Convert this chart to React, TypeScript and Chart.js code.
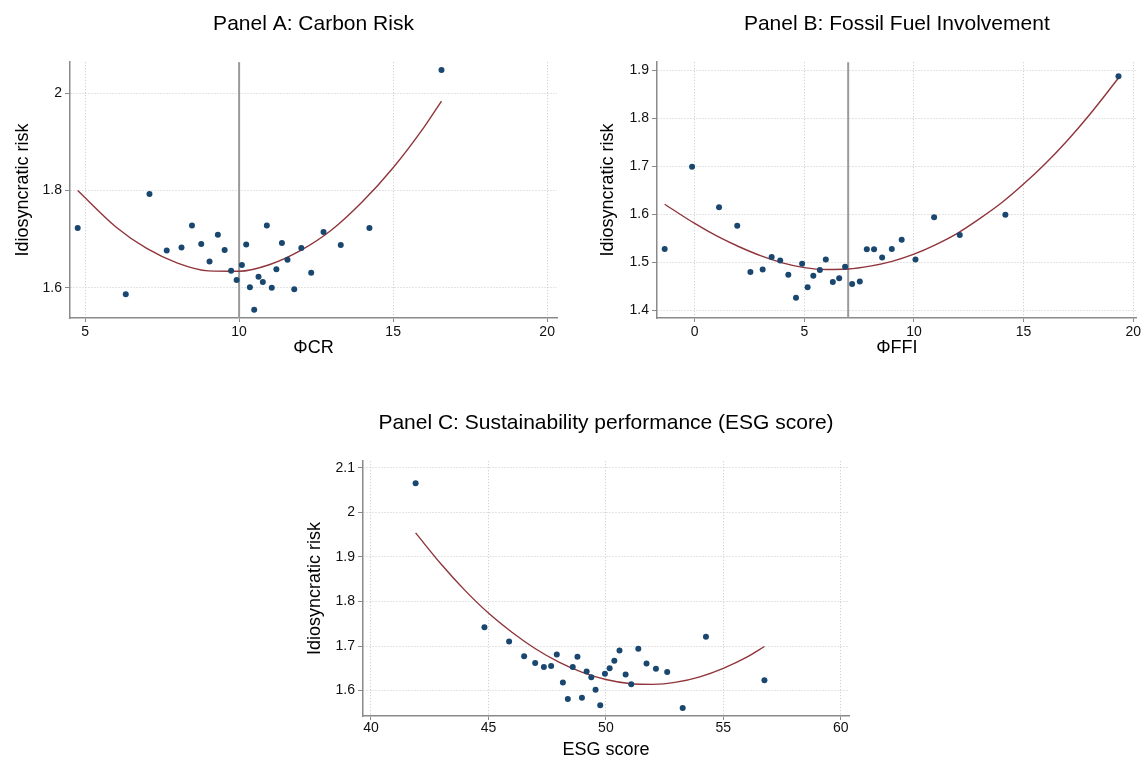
import React, { useEffect, useRef } from 'react';
import { Chart, registerables } from 'chart.js';

Chart.register(...registerables);

const FONT = "'Liberation Sans', Arial, Helvetica, sans-serif";
const DOT = '#1a476f';
const FIT = '#90353b';

// ---------- Panel A: Carbon Risk ----------
const crX = [4.76, 6.32, 7.09, 7.65, 8.13, 8.47, 8.77, 9.04, 9.31, 9.53, 9.74, 9.92, 10.09, 10.23, 10.35, 10.49, 10.63, 10.77, 10.9, 11.06, 11.21, 11.39, 11.57, 11.79, 12.02, 12.34, 12.74, 13.3, 14.23, 16.57];
const crY = [1.723, 1.587, 1.793, 1.677, 1.683, 1.728, 1.69, 1.654, 1.709, 1.678, 1.635, 1.616, 1.647, 1.689, 1.601, 1.555, 1.623, 1.612, 1.728, 1.6, 1.638, 1.692, 1.658, 1.597, 1.682, 1.631, 1.715, 1.688, 1.723, 2.048];
const crFitX = [4.76, 6, 7, 8, 9, 10, 11, 12, 13, 14, 15, 16, 16.57];
const crFitY = [1.8, 1.725, 1.681, 1.651, 1.635, 1.634, 1.648, 1.677, 1.719, 1.777, 1.847, 1.93, 1.984];
const crTicksX = [5, 10, 15, 20];
const crTicksY = [1.6, 1.8, 2];
const crRefLine = 10;

// ---------- Panel B: Fossil Fuel Involvement ----------
const ffiX = [-1.37, -0.12, 1.11, 1.94, 2.54, 3.1, 3.51, 3.9, 4.27, 4.62, 4.9, 5.15, 5.41, 5.71, 5.98, 6.3, 6.59, 6.86, 7.18, 7.53, 7.85, 8.18, 8.55, 8.99, 9.44, 10.07, 10.92, 12.09, 14.17, 19.33];
const ffiY = [1.528, 1.699, 1.615, 1.576, 1.48, 1.485, 1.511, 1.504, 1.474, 1.426, 1.497, 1.448, 1.472, 1.484, 1.506, 1.459, 1.467, 1.491, 1.455, 1.46, 1.527, 1.527, 1.51, 1.528, 1.547, 1.506, 1.594, 1.557, 1.599, 1.8875];
const ffiFitX = [-1.37, 0, 1, 2, 3, 4, 5, 6, 7, 8, 9, 10, 11, 12, 13, 14, 15, 16, 17, 18, 19.33];
const ffiFitY = [1.621, 1.581, 1.555, 1.533, 1.514, 1.499, 1.489, 1.485, 1.486, 1.492, 1.502, 1.517, 1.537, 1.561, 1.591, 1.624, 1.663, 1.706, 1.754, 1.807, 1.884];
const ffiTicksX = [0, 5, 10, 15, 20];
const ffiTicksY = [1.4, 1.5, 1.6, 1.7, 1.8, 1.9];
const ffiRefLine = 7;

// ---------- Panel C: ESG score ----------
const esgX = [41.9, 44.83, 45.88, 46.52, 46.99, 47.36, 47.67, 47.91, 48.17, 48.38, 48.59, 48.79, 48.98, 49.18, 49.38, 49.56, 49.76, 49.96, 50.16, 50.36, 50.58, 50.84, 51.08, 51.38, 51.73, 52.13, 52.61, 53.27, 54.26, 56.75];
const esgY = [2.0655, 1.742, 1.71, 1.677, 1.662, 1.653, 1.655, 1.681, 1.618, 1.581, 1.653, 1.676, 1.584, 1.643, 1.63, 1.602, 1.567, 1.638, 1.65, 1.667, 1.69, 1.636, 1.614, 1.694, 1.661, 1.649, 1.642, 1.561, 1.721, 1.623];
const esgFitX = [41.9, 43, 44, 45, 46, 47, 48, 49, 50, 51, 52, 53, 54, 55, 56, 56.75];
const esgFitY = [1.954, 1.883, 1.825, 1.774, 1.731, 1.694, 1.664, 1.641, 1.625, 1.616, 1.614, 1.619, 1.631, 1.65, 1.675, 1.699];
const esgTicksX = [40, 45, 50, 55, 60];
const esgTicksY = [1.6, 1.7, 1.8, 1.9, 2, 2.1];

type PanelProps = {
  title: string;
  xTitle: string;
  xs: number[];
  ys: number[];
  fitX: number[];
  fitY: number[];
  ticksX: number[];
  ticksY: number[];
  refLine?: number;
  xMin: number; xMax: number; yMin: number; yMax: number;
  left: number; top: number; width: number; height: number;
  yAxisW: number; xAxisH: number; padRight: number;
  yTitlePad: number; xTitlePad: number; xTickPad: number;
};

const fmt = (v: any) => String(Math.round(Number(v) * 100) / 100);

function Panel(p: PanelProps) {
  const ref = useRef<HTMLCanvasElement | null>(null);
  useEffect(() => {
    if (!ref.current) return;
    const refLinePlugin = {
      id: 'refLine',
      beforeDatasetsDraw(chart: any) {
        if (p.refLine === undefined) return;
        const { ctx, chartArea, scales } = chart;
        const x = scales.x.getPixelForValue(p.refLine);
        ctx.save();
        ctx.strokeStyle = '#9a9a9a';
        ctx.lineWidth = 2;
        ctx.beginPath();
        ctx.moveTo(x, chartArea.top);
        ctx.lineTo(x, chartArea.bottom);
        ctx.stroke();
        ctx.restore();
      },
    };
    const tickFont = { family: FONT, size: 14 };
    const chart = new Chart(ref.current, {
      type: 'scatter',
      data: {
        datasets: [
          {
            type: 'scatter',
            data: p.xs.map((x, i) => ({ x, y: p.ys[i] })),
            backgroundColor: DOT,
            borderColor: DOT,
            borderWidth: 0,
            pointRadius: 3,
          },
          {
            type: 'line',
            data: p.fitX.map((x, i) => ({ x, y: p.fitY[i] })),
            borderColor: FIT,
            borderWidth: 1.4,
            pointRadius: 0,
            fill: false,
            cubicInterpolationMode: 'monotone',
          } as any,
        ],
      },
      options: {
        responsive: false,
        animation: false,
        devicePixelRatio: 1,
        layout: { padding: { right: p.padRight, left: 0, top: 0, bottom: 0 } },
        plugins: {
          legend: { display: false },
          tooltip: { enabled: false },
          title: {
            display: true,
            text: p.title,
            fullSize: false,
            color: '#000',
            font: { family: FONT, size: 21, weight: 'normal' },
            padding: { top: 12, bottom: 25 },
          },
        },
        scales: {
          x: {
            type: 'linear',
            min: p.xMin,
            max: p.xMax,
            afterBuildTicks: (s: any) => { s.ticks = p.ticksX.map((v) => ({ value: v })); },
            afterFit: (s: any) => { s.height = p.xAxisH; },
            grid: { color: '#c8c8c8', lineWidth: 1, tickColor: '#8a8a8a', tickLength: 4, tickWidth: 1 },
            border: { display: true, color: '#8a8a8a', width: 1.5, dash: [1, 2] },
            ticks: { font: tickFont, color: '#111', padding: p.xTickPad, maxRotation: 0, autoSkip: false, callback: fmt },
            title: { display: true, text: p.xTitle, color: '#000', font: { family: FONT, size: 18 }, padding: { top: 0, bottom: p.xTitlePad } },
          },
          y: {
            type: 'linear',
            min: p.yMin,
            max: p.yMax,
            afterBuildTicks: (s: any) => { s.ticks = p.ticksY.map((v) => ({ value: v })); },
            afterFit: (s: any) => { s.width = p.yAxisW; },
            grid: { color: '#c8c8c8', lineWidth: 1, tickColor: '#8a8a8a', tickLength: 5, tickWidth: 1 },
            border: { display: true, color: '#8a8a8a', width: 1.5, dash: [1, 2] },
            ticks: { font: tickFont, color: '#111', padding: 3, autoSkip: false, callback: fmt },
            title: { display: true, text: 'Idiosyncratic risk', color: '#000', font: { family: FONT, size: 18 }, padding: { top: p.yTitlePad, bottom: 0 } },
          },
        },
      } as any,
      plugins: [refLinePlugin],
    });
    return () => chart.destroy();
  }, []);
  return (
    <div style={{ position: 'absolute', left: p.left, top: p.top, width: p.width, height: p.height }}>
      <canvas ref={ref} width={p.width} height={p.height} style={{ width: p.width, height: p.height, display: 'block' }} />
    </div>
  );
}

export default function App() {
  return (
    <div style={{ position: 'absolute', left: 0, top: 0, width: 1143, height: 757, overflow: 'hidden', background: '#fff' }}>
      <Panel
        title="Panel A: Carbon Risk" xTitle="ΦCR"
        xs={crX} ys={crY} fitX={crFitX} fitY={crFitY} ticksX={crTicksX} ticksY={crTicksY} refLine={crRefLine}
        xMin={4.51} xMax={20.32} yMin={1.538} yMax={2.064}
        left={0} top={0} width={570} height={375}
        yAxisW={70} xAxisH={57} padRight={13} yTitlePad={12} xTitlePad={16} xTickPad={2}
      />
      <Panel
        title="Panel B: Fossil Fuel Involvement" xTitle="ΦFFI"
        xs={ffiX} ys={ffiY} fitX={ffiFitX} fitY={ffiFitY} ticksX={ffiTicksX} ticksY={ffiTicksY} refLine={ffiRefLine}
        xMin={-1.72} xMax={20.16} yMin={1.384} yMax={1.917}
        left={570} top={0} width={573} height={375}
        yAxisW={87} xAxisH={57} padRight={5} yTitlePad={27} xTitlePad={16} xTickPad={2}
      />
      <Panel
        title="Panel C: Sustainability performance (ESG score)" xTitle="ESG score"
        xs={esgX} ys={esgY} fitX={esgFitX} fitY={esgFitY} ticksX={esgTicksX} ticksY={esgTicksY}
        xMin={39.66} xMax={60.35} yMin={1.543} yMax={2.115}
        left={270} top={399} width={600} height={375}
        yAxisW={93} xAxisH={58} padRight={21} yTitlePad={34} xTitlePad={13} xTickPad={0}
      />
    </div>
  );
}
